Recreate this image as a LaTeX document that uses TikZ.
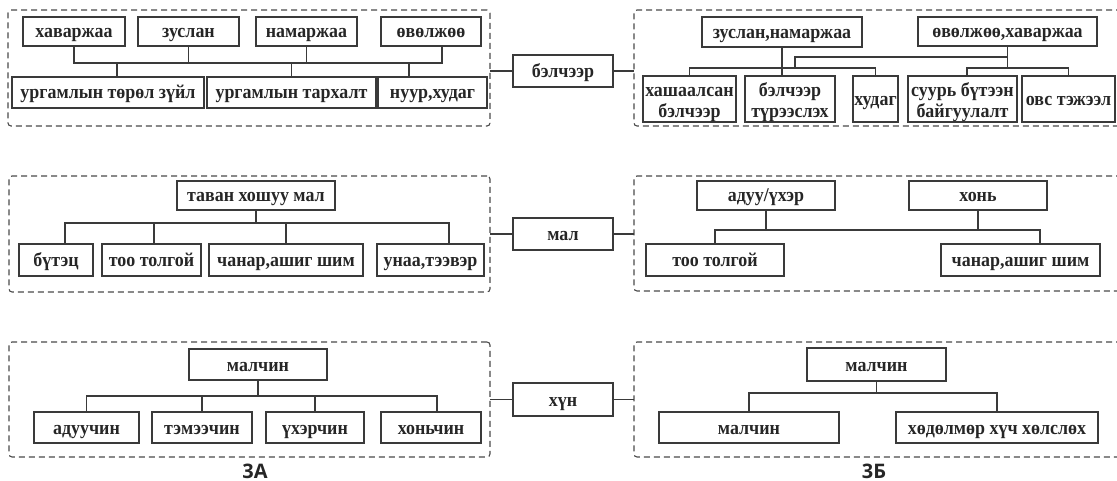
\documentclass[tikz,border=0pt]{standalone}
\usepackage{fontspec}
\setmainfont{Liberation Serif}
\newfontfamily\boxfont{Liberation Serif}[FakeStretch=0.92]
\newfontfamily\labfont{Open Sans}
\definecolor{boxc}{HTML}{3A3A3A}
\definecolor{frmc}{HTML}{4A4A4A}
\definecolor{txtc}{HTML}{262626}
\newcommand\bx[6]{\node[bx, minimum width={(#4)-(#2)}, minimum height={(#5)-(#3)}] (#1) at ({((#2)+(#4))/2},{((#3)+(#5))/2}) {#6};}
\newcommand\bxx[7]{\node[bx, two, minimum width={(#4)-(#2)}, minimum height={(#5)-(#3)}] (#1) at ({((#2)+(#4))/2},{((#3)+(#5))/2}) {\smash{\begin{tabular}{@{}c@{}}#6\\#7\end{tabular}}};}
\newcommand\fr[5]{\node[frm, minimum width={(#4)-(#2)}, minimum height={(#5)-(#3)}] (#1) at ({((#2)+(#4))/2},{((#3)+(#5))/2}) {};}
\begin{document}
\begin{tikzpicture}[x=1pt,y=-1pt,
  bx/.style={draw=boxc, line width=1.3pt, fill=white, inner sep=0pt, outer sep=0pt,
    font=\boxfont\fontsize{19.5}{21}\selectfont\bfseries, text=txtc, text height=15pt, text depth=2pt},
  two/.style={text height=18pt, text depth=0pt},
  frm/.style={draw=frmc, line width=1.1pt, dash pattern=on 6pt off 4pt, rounded corners=3pt,
    inner sep=0pt, outer sep=0pt},
  ln/.style={draw=boxc, line width=1.2pt},
  lab/.style={font=\labfont\bfseries\fontsize{20}{22}\selectfont, text=txtc, inner sep=0pt}]
\useasboundingbox (0,0) rectangle (1117,481);
\clip (0,0) rectangle (1117,481);
\fill[white] (0,0) rectangle (1117,481);

% frames
\fr{f1L}{8}{10}{490}{126}
\fr{f1R}{634}{10}{1135}{126}
\fr{f2L}{9}{176}{490}{292}
\fr{f2R}{634}{176}{1135}{291}
\fr{f3L}{9}{342}{490}{457}
\fr{f3R}{634}{342}{1135}{457}

% middle boxes
\bx{bel}{513}{55}{613}{87}{бэлчээр}
\bx{mal}{513}{218}{613}{250}{мал}
\bx{hun}{513}{383}{613}{416}{хүн}

% row 1 left
\bx{hav}{23}{17}{125}{46}{хаваржаа}
\bx{zus}{138}{17}{239}{46}{зуслан}
\bx{nam}{256}{17}{357}{46}{намаржаа}
\bx{ovl}{381}{17}{481}{46}{өвөлжөө}
\bx{ur1}{12}{77}{204}{108}{ургамлын төрөл зүйл}
\bx{ur2}{207}{77}{376}{108}{ургамлын тархалт}
\bx{ur3}{378}{77}{487}{108}{нуур,худаг}

% row 1 right
\bx{zn}{702}{17}{862}{47}{зуслан,намаржаа}
\bx{oh}{918}{17}{1097}{46}{өвөлжөө,хаваржаа}
\bxx{hb}{643}{76}{736}{122}{хашаалсан}{бэлчээр}
\bxx{bt}{745}{76}{835}{122}{бэлчээр}{түрээслэх}
\bx{hd}{853}{76}{898}{122}{худаг}
\bxx{sb}{908}{76}{1017}{122}{суурь бүтээн}{байгуулалт}
\bx{ot}{1022}{76}{1115}{122}{овс тэжээл}

% row 2 left
\bx{tx}{177}{181}{335}{210}{таван хошуу мал}
\bx{bu}{19}{244}{93}{276}{бүтэц}
\bx{too}{102}{244}{201}{276}{тоо толгой}
\bx{ch}{209}{244}{363}{276}{чанар,ашиг шим}
\bx{un}{377}{244}{484}{276}{унаа,тээвэр}

% row 2 right
\bx{au}{697}{181}{835}{210}{адуу/үхэр}
\bx{hn}{909}{181}{1047}{210}{хонь}
\bx{too2}{646}{244}{784}{276}{тоо толгой}
\bx{ch2}{941}{244}{1100}{276}{чанар,ашиг шим}

% row 3 left
\bx{mc}{189}{349}{327}{380}{малчин}
\bx{ad}{34}{412}{139}{443}{адуучин}
\bx{tm}{152}{412}{252}{443}{тэмээчин}
\bx{uh}{266}{412}{364}{443}{үхэрчин}
\bx{hc}{381}{412}{481}{443}{хоньчин}

% row 3 right
\bx{mc2}{807}{348}{946}{381}{малчин}
\bx{mc3}{659}{412}{839}{443}{малчин}
\bx{hh}{896}{412}{1098}{443}{хөдөлмөр хүч хөлслөх}

% connectors to middle boxes
\draw[ln] (bel.west) -- (bel.west -| f1L.east);
\draw[ln] (bel.east) -- (bel.east -| f1R.west);
\draw[ln] (mal.west) -- (mal.west -| f2L.east);
\draw[ln] (mal.east) -- (mal.east -| f2R.west);
\draw[ln] (hun.west) -- (hun.west -| f3L.east);
\draw[ln] (hun.east) -- (hun.east -| f3R.west);

% row 1 left connectors
\coordinate (a1) at (75,63);
\draw[ln] (hav.south) -- (hav.south |- a1) -- ([xshift=11pt]ovl.south |- a1) -- ([xshift=11pt]ovl.south);
\draw[ln] (zus.south) -- (zus.south |- a1);
\draw[ln] (nam.south) -- (nam.south |- a1);
\draw[ln] ([xshift=9pt]ur1.north) -- ([xshift=9pt]ur1.north |- a1);
\draw[ln] (ur2.north) -- (ur2.north |- a1);
\draw[ln] ([xshift=-23.5pt]ur3.north) -- ([xshift=-23.5pt]ur3.north |- a1);

% row 1 right connectors
\coordinate (c1) at (688,68);
\coordinate (c4) at (795,57);
\draw[ln] (zn.south) -- (zn.south |- bt.north);
\draw[ln] (hb.north) -- (hb.north |- c1) -- (hd.north |- c1) -- (hd.north);
\draw[ln] (c4 |- c1) -- (c4) -- (c4 -| oh.south);
\draw[ln] (oh.south) -- (oh.south |- c1);
\draw[ln] ([xshift=4.5pt]sb.north) -- ([xshift=4.5pt]sb.north |- c1) -- (ot.north |- c1) -- (ot.north);

% row 2 left connectors
\coordinate (d1) at (0,223);
\draw[ln] (tx.south) -- (tx.south |- d1);
\draw[ln] ([xshift=9pt]bu.north) -- ([xshift=9pt]bu.north |- d1) -- ([xshift=18.5pt]un.north |- d1) -- ([xshift=18.5pt]un.north);
\draw[ln] ([xshift=2.5pt]too.north) -- ([xshift=2.5pt]too.north |- d1);
\draw[ln] (ch.north) -- (ch.north |- d1);

% row 2 right connectors
\coordinate (e1) at (0,230);
\draw[ln] (au.south) -- (au.south |- e1);
\draw[ln] (hn.south) -- (hn.south |- e1);
\draw[ln] (too2.north) -- (too2.north |- e1) -- ([xshift=19.5pt]ch2.north |- e1) -- ([xshift=19.5pt]ch2.north);

% row 3 left connectors
\coordinate (g1) at (0,396);
\draw[ln] (mc.south) -- (mc.south |- g1);
\draw[ln] (ad.north) -- (ad.north |- g1) -- ([xshift=6pt]hc.north |- g1) -- ([xshift=6pt]hc.north);
\draw[ln] (tm.north) -- (tm.north |- g1);
\draw[ln] (uh.north) -- (uh.north |- g1);

% row 3 right connectors
\coordinate (h1) at (0,393);
\draw[ln] (mc2.south) -- (mc2.south |- h1);
\draw[ln] (mc3.north) -- (mc3.north |- h1) -- (hh.north |- h1) -- (hh.north);

% labels
\node[lab] (lA) at (255,471) {3А};
\node[lab] (lB) at (874,471) {3Б};
\end{tikzpicture}
\end{document}
